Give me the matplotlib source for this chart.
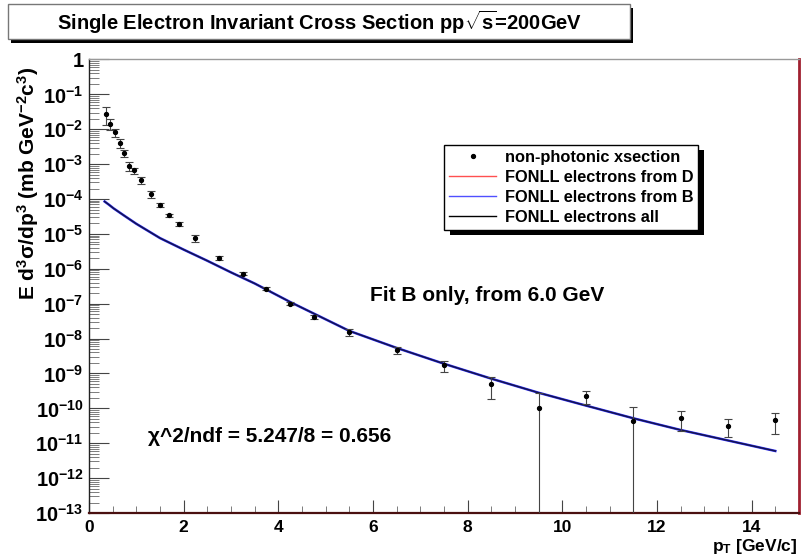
import math
import matplotlib
matplotlib.use("Agg")
import matplotlib.pyplot as plt
from matplotlib.patches import Rectangle
from matplotlib.lines import Line2D
from matplotlib.ticker import FixedLocator, FuncFormatter, LogLocator, MultipleLocator, NullFormatter

plt.rcParams.update({"font.family": "Liberation Sans", "font.weight": "bold",
                     "mathtext.fontset": "custom", "mathtext.rm": "Liberation Sans:bold",
                     "mathtext.it": "Liberation Sans:bold", "mathtext.bf": "Liberation Sans:bold",
                     "mathtext.sf": "Liberation Sans:bold", "mathtext.default": "rm"})

# ---- data ----
pt = [0.35, 0.45, 0.55, 0.65, 0.75, 0.85, 0.95, 1.1, 1.3, 1.5, 1.7, 1.9, 2.25, 2.75,
      3.25, 3.75, 4.25, 4.75, 5.5, 6.5, 7.5, 8.5, 9.5, 10.5, 11.5, 12.5, 13.5, 14.5]
xsec = [2.8e-2, 1.45e-2, 8.1e-3, 4.1e-3, 2.1e-3, 8.9e-4, 6.6e-4, 3.5e-4, 1.4e-4, 6.8e-5,
        3.4e-5, 1.9e-5, 7.6e-6, 2.1e-6, 7.2e-7, 2.7e-7, 1.0e-7, 4.1e-8, 1.5e-8, 4.7e-9,
        1.7e-9, 4.9e-10, 1.05e-10, 2.3e-10, 4.4e-11, 5.4e-11, 3.2e-11, 4.6e-11]
xsec_err = [1.5e-2, 5.0e-3, 1.9e-3, 1.15e-3, 4.8e-4, 2.5e-4, 1.4e-4, 8.0e-5, 3.0e-5, 7.8e-6,
            3.9e-6, 2.6e-6, 1.75e-6, 2.9e-7, 6.6e-8, 2.5e-8, 9.0e-9, 5.5e-9, 3.5e-9, 1.2e-9,
            6.0e-10, 3.0e-10, 1.65e-10, 9.5e-11, 6.6e-11, 3.1e-11, 1.65e-11, 2.8e-11]

pt_fonll = [0.33, 0.42, 0.52, 0.75, 1.0, 1.5, 2.0, 2.5, 3.0, 3.5, 4.25, 5.5, 6.5, 7.5, 8.5,
            9.5, 10.5, 11.5, 12.5, 13.5, 14.5]
fonll_b = [8.5e-5, 6.9e-5, 5.4e-5, 3.3e-5, 1.95e-5, 7.6e-6, 3.55e-6, 1.7e-6, 7.9e-7, 3.8e-7,
           1.12e-7, 1.66e-8, 5.4e-9, 1.9e-9, 7.1e-10, 2.8e-10, 1.2e-10, 5.2e-11, 2.4e-11,
           1.2e-11, 6.0e-12]
fonll_all = fonll_b  # D contribution negligible in the B-only fit

decades = list(range(-13, 1))

fig = plt.figure(figsize=(8.01, 5.56), dpi=100)
ax = fig.add_axes([0.1111, 0.0773, 0.8864, 0.8157])

ax.errorbar(pt, xsec, yerr=xsec_err, fmt="o", ms=2.8, color="black", ecolor="#444444",
            elinewidth=0.8, capsize=3, capthick=0.8, zorder=3)
ax.plot(pt_fonll, fonll_b, color="#3030ff", lw=1.8, zorder=2)
ax.plot(pt_fonll, fonll_all, color="#101030", lw=1.1, alpha=0.85, zorder=2)

ax.set_yscale("log")
ax.set_xlim(0, 15)
ax.set_ylim(1e-13, 1)

ax.yaxis.set_major_locator(FixedLocator([10.0 ** d for d in decades]))
ax.yaxis.set_major_formatter(FuncFormatter(
    lambda v, p: "1" if v >= 0.99 else r"$\mathbf{10^{%d}}$" % round(math.log10(v))))
ax.yaxis.set_minor_locator(LogLocator(base=10, subs=range(2, 10), numticks=30))
ax.yaxis.set_minor_formatter(NullFormatter())
ax.xaxis.set_major_locator(MultipleLocator(2))
ax.xaxis.set_minor_locator(MultipleLocator(0.5))

ax.tick_params(axis="y", which="major", direction="in", length=14.5, width=0.8,
               labelsize=14.5, pad=4, color="#444444")
ax.tick_params(axis="y", which="minor", direction="in", length=7, width=0.6, color="#666666")
ax.tick_params(axis="x", which="major", direction="in", length=9.5, width=0.8,
               labelsize=12.5, pad=5, color="#444444")
ax.tick_params(axis="x", which="minor", direction="in", length=5, width=0.6, color="#666666")

ax.spines["left"].set_color("#222222")
ax.spines["left"].set_linewidth(1.0)
ax.spines["bottom"].set_color("#4a1010")
ax.spines["bottom"].set_linewidth(1.6)
ax.spines["right"].set_color("#a02030")
ax.spines["right"].set_linewidth(2.0)
ax.spines["top"].set_color("#999999")
ax.spines["top"].set_linewidth(1.0)

ax.text(0.396, 0.479, "Fit B only, from 6.0 GeV", transform=ax.transAxes,
        fontsize=15, fontweight="bold", va="center", ha="left")
ax.text(0.083, 0.168, "\u03c7^2/ndf = 5.247/8 = 0.656", transform=ax.transAxes,
        fontsize=15, fontweight="bold", va="center", ha="left")

fig.text(28 / 801, 1 - 183 / 556, r"E d$^{3}\sigma$/dp$^{3}$ (mb GeV$^{-2}$c$^{3}$)",
         rotation=90, ha="center", va="center", fontsize=15)
fig.text(797 / 801, 1 - 546 / 556, r"p$_{\mathrm{T}}$ [GeV/c]", ha="right", va="center",
         fontsize=12.5)

# legend
handles = [Line2D([], [], ls="none", marker="o", ms=2.8, color="black"),
           Line2D([], [], color="#ff5050", lw=1),
           Line2D([], [], color="#5050ff", lw=1),
           Line2D([], [], color="black", lw=1)]
labels = ["non-photonic xsection", "FONLL electrons from D", "FONLL electrons from B",
          "FONLL electrons all"]
leg = fig.legend(handles, labels, loc="upper left", bbox_to_anchor=(444 / 801, 1 - 145 / 556),
                 bbox_transform=fig.transFigure, borderaxespad=0, fontsize=11.8,
                 handlelength=2.9, labelspacing=0.3, borderpad=0.3, handletextpad=0.5,
                 fancybox=False, framealpha=1, edgecolor="black")
leg.get_frame().set_linewidth(1.0)
leg.set_zorder(6)

# shadow behind the legend box
fig.canvas.draw()
bb = leg.get_window_extent().transformed(fig.transFigure.inverted())
fig.patches.append(Rectangle((bb.x0 + 6 / 801, bb.y0 - 5 / 556), bb.width, bb.height,
                             transform=fig.transFigure, facecolor="black", zorder=5))

# title box with shadow
fig.patches.append(Rectangle((11 / 801, 1 - 43 / 556), 622 / 801, 35 / 556,
                             transform=fig.transFigure, facecolor="black", zorder=5))
fig.patches.append(Rectangle((8 / 801, 1 - 39 / 556), 622 / 801, 35 / 556,
                             transform=fig.transFigure, facecolor="white",
                             edgecolor="#777777", lw=1.0, zorder=6))
fig.text(320 / 801, 1 - 22 / 556, r"Single Electron Invariant Cross Section pp$\sqrt{\mathrm{s}}$=200GeV",
         ha="center", va="center", fontsize=14.5, zorder=7)

fig.savefig("out.png", dpi=100)
